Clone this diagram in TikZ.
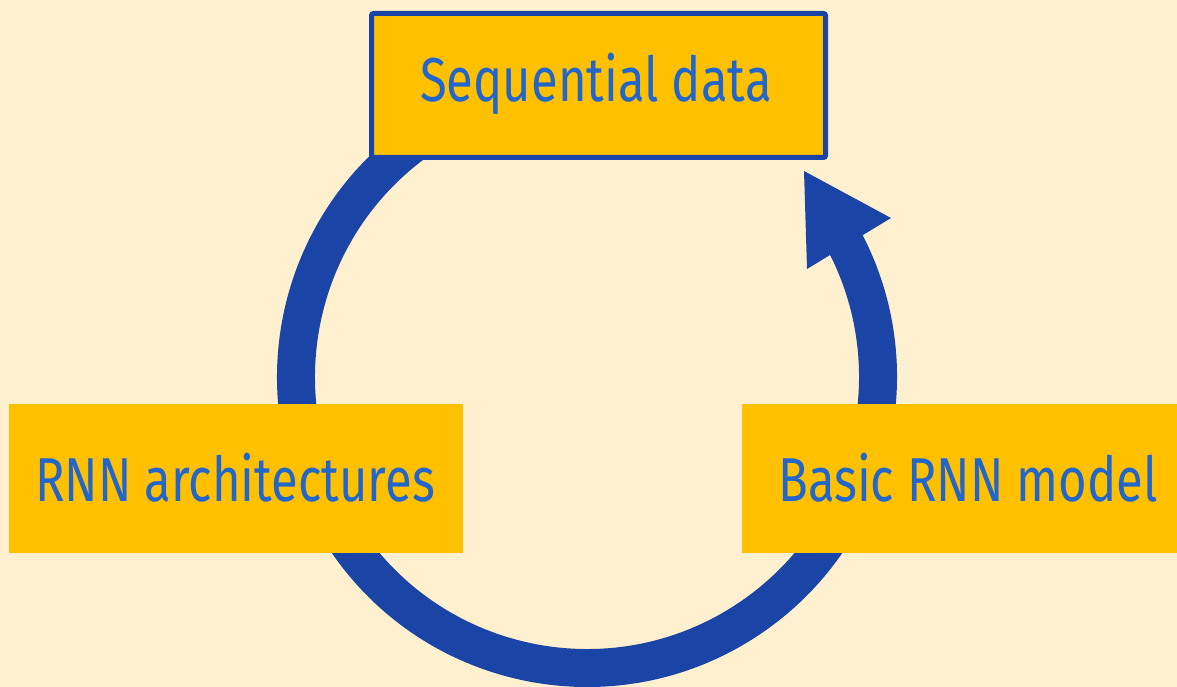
\documentclass[tikz,border=0pt]{standalone}
\usepackage{fontspec}
\usetikzlibrary{calc}
\setmainfont{Fira Sans}[FakeStretch=0.79]
\definecolor{bgcream}{HTML}{FFF1CF}
\definecolor{boxgold}{HTML}{FFC000}
\definecolor{ringblue}{HTML}{1A45A6}
\definecolor{textblue}{HTML}{2266CC}
\tikzset{
  stagebox/.style={fill=boxgold, inner sep=0pt},
  stagetext/.style={text=textblue, inner sep=0pt, font=\fontsize{62}{70}\selectfont},
  ring/.style={draw=ringblue, line width=38pt},
}
\begin{document}
\begin{tikzpicture}[x=1pt,y=-1pt]
  % page background
  \fill[bgcream] (0,0) rectangle (1177,687);
  \useasboundingbox (0,0) rectangle (1177,687);
  % cycle ring with its arrowhead
  \coordinate (c) at (587,377);
  \draw[ring] ($(c)+(235:291)$) arc[start angle=235, end angle=-31, radius=291];
  \fill[ringblue] (804,171) -- (891,218) -- (807,269) -- cycle;
  % stages
  \node[stagebox, draw=ringblue, line width=5pt, rounded corners=2pt,
        minimum width=454pt, minimum height=144pt] (seq) at (598.5,85.5) {};
  \node[stagetext] (seqt) at (596,84) {Sequential data};
  \node[stagebox, minimum width=454pt, minimum height=149pt] (arch) at (236,478.5) {};
  \node[stagetext] (archt) at (235,478) {RNN architectures};
  \node[stagebox, minimum width=435pt, minimum height=149pt] (basic) at (959.5,478.5) {};
  \node[stagetext] (basict) at (968,478) {Basic RNN model};
\end{tikzpicture}
\end{document}
